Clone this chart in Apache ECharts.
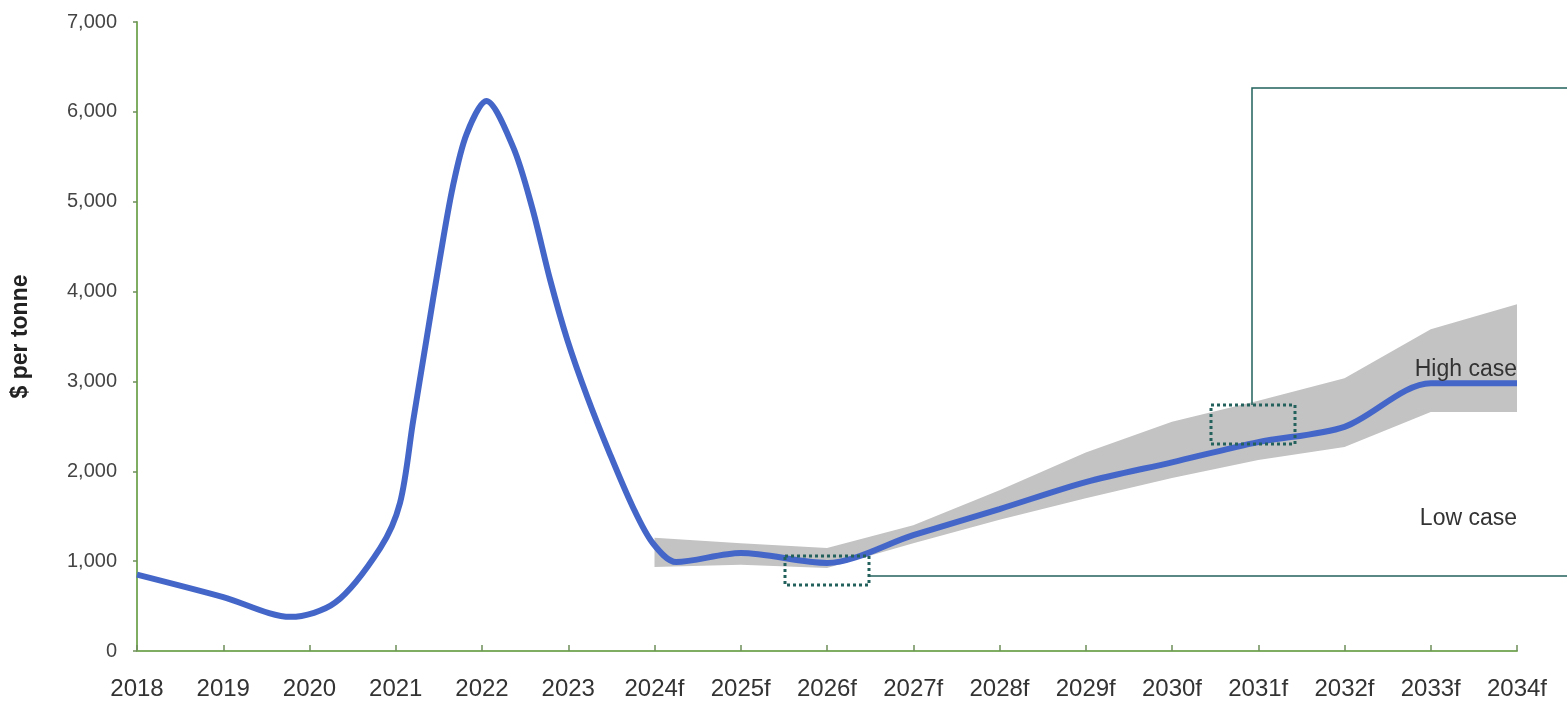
<!DOCTYPE html>
<html>
<head>
<meta charset="utf-8">
<script src="https://cdn.jsdelivr.net/npm/echarts@6/dist/echarts.min.js"></script>
<style>html,body{margin:0;padding:0;background:#fff}#c{width:1567px;height:701px}</style>
</head>
<body>
<div id="c"></div>
<script>
// Price path (year, $ per tonne)
var lineYears  = [2018, 2019, 2019.78, 2020.3, 2020.82, 2021.05, 2021.2, 2021.36, 2021.51, 2021.66, 2021.82, 2022.05, 2022.36, 2022.58, 2022.79, 2022.99, 2023.22, 2023.48, 2023.75, 2023.98, 2024.25, 2025, 2026, 2027, 2028, 2029, 2030, 2031, 2032, 2033, 2034];
var lineValues = [850, 600, 380, 540, 1146, 1650, 2550, 3490, 4360, 5160, 5750, 6120, 5610, 4940, 4130, 3460, 2830, 2200, 1600, 1200, 990, 1090, 980, 1290, 1580, 1880, 2100, 2325, 2495, 2980, 2980];
// Forecast range
var bandYears  = [2024, 2025, 2026, 2027, 2028, 2029, 2030, 2031, 2032, 2033, 2034];
var highValues = [1260, 1200, 1145, 1400, 1790, 2210, 2550, 2785, 3035, 3580, 3860];
var lowValues  = [935, 960, 925, 1200, 1460, 1700, 1925, 2125, 2270, 2660, 2660];
// Axis
var firstYear = 2018, lastYear = 2034, lastActual = 2023;
var yTicks = [0, 1000, 2000, 3000, 4000, 5000, 6000, 7000];

var linePts = lineYears.map(function (y, i) { return [y, lineValues[i]]; });
var bandRows = bandYears.map(function (y, i) { return [y, lowValues[i], highValues[i]]; });

var chart = echarts.init(document.getElementById('c'));
var axisGreen = '#7fae62';
var teal = '#22615c';
chart.setOption({
  animation: false,
  grid: { left: 137, right: 50, top: 22, bottom: 50, outerBoundsMode: 'none', containLabel: false },
  xAxis: {
    type: 'value', min: firstYear, max: lastYear, interval: 1,
    axisLine: { show: true, lineStyle: { color: axisGreen, width: 2 } },
    axisTick: { show: true, inside: true, length: 6, lineStyle: { color: '#6f8f5a', width: 1.5 } },
    splitLine: { show: false },
    axisLabel: {
      margin: 26, fontSize: 24, color: '#333', fontFamily: 'Arial, Liberation Sans, sans-serif',
      formatter: function (v) { return v <= lastActual ? String(v) : v + 'f'; }
    }
  },
  yAxis: {
    type: 'value', min: yTicks[0], max: yTicks[yTicks.length - 1], interval: 1000,
    name: '$ per tonne', nameLocation: 'middle', nameGap: 105, nameRotate: 90,
    nameTextStyle: { fontSize: 23, fontWeight: 'bold', color: '#222', fontFamily: 'Arial, Liberation Sans, sans-serif' },
    axisLine: { show: true, lineStyle: { color: axisGreen, width: 2 } },
    axisTick: { show: true, inside: false, length: 4, lineStyle: { color: '#6f8f5a', width: 1.5 } },
    splitLine: { show: false },
    axisLabel: {
      margin: 20, fontSize: 20, color: '#444', fontFamily: 'Arial, Liberation Sans, sans-serif',
      formatter: function (v) { return v.toLocaleString('en-US'); }
    }
  },
  series: [
    {
      type: 'custom', data: bandRows, z: 1, silent: true,
      encode: { x: 0, y: [1, 2] },
      renderItem: function (params, api) {
        if (params.dataIndex !== 0) return null;
        var top = [], bottom = [];
        for (var i = 0; i < bandRows.length; i++) {
          top.push(api.coord([bandRows[i][0], bandRows[i][2]]));
          bottom.unshift(api.coord([bandRows[i][0], bandRows[i][1]]));
        }
        return { type: 'polygon', shape: { points: top.concat(bottom) }, style: { fill: '#c3c3c3' } };
      }
    },
    { type: 'line', data: linePts, smooth: 0.3, symbol: 'none',
      lineStyle: { color: '#4466c9', width: 6 }, z: 3 }
  ],
  graphic: [
    { type: 'text', right: 50, top: 358, style: { text: 'High case', fontSize: 23, fill: '#333', fontFamily: 'Arial, Liberation Sans, sans-serif' }, z: 10 },
    { type: 'text', right: 50, top: 507, style: { text: 'Low case', fontSize: 23, fill: '#333', fontFamily: 'Arial, Liberation Sans, sans-serif' }, z: 10 },
    { type: 'polyline', shape: { points: [[1252, 405], [1252, 88], [1567, 88]] }, style: { stroke: teal, lineWidth: 1.5, fill: null }, z: 10 },
    { type: 'line', shape: { x1: 869, y1: 576, x2: 1567, y2: 576 }, style: { stroke: teal, lineWidth: 1.5 }, z: 10 },
    { type: 'rect', shape: { x: 785, y: 556, width: 84, height: 29 }, style: { stroke: teal, lineWidth: 3, lineDash: [3, 3], fill: null }, z: 10 },
    { type: 'rect', shape: { x: 1211, y: 405, width: 84, height: 39 }, style: { stroke: teal, lineWidth: 3, lineDash: [3, 3], fill: null }, z: 10 }
  ]
});
</script>
</body>
</html>
